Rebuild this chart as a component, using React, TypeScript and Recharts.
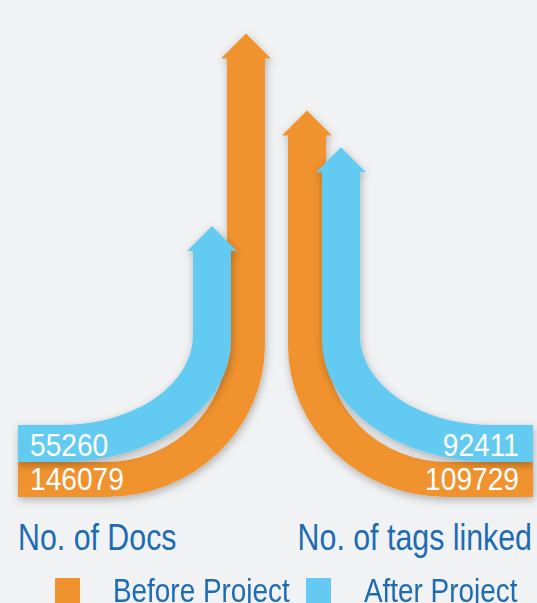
import { BarChart, Bar, XAxis, YAxis, Legend, LabelList } from 'recharts';

const categories = ['No. of Docs', 'No. of tags linked'];
const seriesNames = ['Before Project', 'After Project'];
const beforeProject = [146079, 109729];
const afterProject = [55260, 92411];

const data = categories.map((name, i) => ({
  name,
  before: beforeProject[i],
  after: afterProject[i],
}));

const ORANGE = '#f0922e';
const BLUE = '#64caf2';
const TEXT_BLUE = '#1d6cb3';
const BG = '#f1f2f4';
// no narrow font installed, so squeeze Liberation Sans horizontally
const FONT = "'Liberation Sans', Arial, sans-serif";
const NARROW = 0.82;

const STEP = 34; // barSize + barGap, used to swap the pair on the left side
const HEAD_OUT = 6;
const HEAD_H = 25;
const EDGE_L = 18;
const EDGE_R = 533;

// where each series bends into its horizontal band (left side, right side is mirrored)
const bend = {
  before: { slot: 0, hy1: 462, hy2: 497, rx: 121, cyI: 345, cyO: 345, labelY: 490 },
  after: { slot: 1, hy1: 425, hy2: 462, rx: 132, cyI: 335, cyO: 340, labelY: 456 },
};

function BentArrow(props: any) {
  const { x, y, width, index, fill, geo } = props;
  const left = index === 0;
  const s0 = left ? x + (1 - 2 * geo.slot) * STEP : x;
  const s1 = s0 + width;
  const mid = s0 + width / 2;
  const hb = y + HEAD_H;
  const ryI = geo.hy1 - geo.cyI;
  const ryO = geo.hy2 - geo.cyO;
  const rxO = geo.rx + width;
  let d;
  if (left) {
    const ax = s0 - geo.rx;
    d = [
      `M ${EDGE_L} ${geo.hy1}`,
      `L ${ax} ${geo.hy1}`,
      `A ${geo.rx} ${ryI} 0 0 0 ${s0} ${geo.cyI}`,
      `L ${s0} ${hb}`,
      `L ${s0 - HEAD_OUT} ${hb}`,
      `L ${mid} ${y}`,
      `L ${s1 + HEAD_OUT} ${hb}`,
      `L ${s1} ${hb}`,
      `L ${s1} ${geo.cyO}`,
      `A ${rxO} ${ryO} 0 0 1 ${ax} ${geo.hy2}`,
      `L ${EDGE_L} ${geo.hy2}`,
      'Z',
    ].join(' ');
  } else {
    const ax = s1 + geo.rx;
    d = [
      `M ${EDGE_R} ${geo.hy1}`,
      `L ${ax} ${geo.hy1}`,
      `A ${geo.rx} ${ryI} 0 0 1 ${s1} ${geo.cyI}`,
      `L ${s1} ${hb}`,
      `L ${s1 + HEAD_OUT} ${hb}`,
      `L ${mid} ${y}`,
      `L ${s0 - HEAD_OUT} ${hb}`,
      `L ${s0} ${hb}`,
      `L ${s0} ${geo.cyO}`,
      `A ${rxO} ${ryO} 0 0 0 ${ax} ${geo.hy2}`,
      `L ${EDGE_R} ${geo.hy2}`,
      'Z',
    ].join(' ');
  }
  return <path d={d} fill={fill} filter="url(#arrowShadow)" />;
}

function NarrowText({ x, y, anchor, size, color, squeeze = NARROW, children }: any) {
  return (
    <text
      transform={`translate(${x},${y}) scale(${squeeze},1)`}
      textAnchor={anchor}
      fill={color}
      fontSize={size}
      fontFamily={FONT}
    >
      {children}
    </text>
  );
}

const valueLabel = (geo: any) => (p: any) => {
  const left = p.index === 0;
  return (
    <NarrowText x={left ? 30 : 519} y={geo.labelY} anchor={left ? 'start' : 'end'} size={32} squeeze={0.88} color="#fff">
      {p.value}
    </NarrowText>
  );
};

function CategoryTick(props: any) {
  const { index, payload } = props;
  const left = index === 0;
  return (
    <NarrowText x={left ? 18 : 532} y={550} anchor={left ? 'start' : 'end'} size={37} color={TEXT_BLUE}>
      {payload.value}
    </NarrowText>
  );
}

const renderLegend = (props: any) => {
  const items = [...props.payload].sort(
    (a: any, b: any) => seriesNames.indexOf(a.value) - seriesNames.indexOf(b.value)
  );
  return (
    <div style={{ display: 'flex', paddingLeft: 55, fontFamily: FONT, fontSize: 34, lineHeight: '35px', color: TEXT_BLUE }}>
      {items.map((entry: any) => (
        <div key={entry.value} style={{ position: 'relative', flexShrink: 0, width: 251, height: 35 }}>
          <span
            style={{ position: 'absolute', left: 0, top: 5, width: 25, height: 25, background: entry.color }}
          />
          <span
            style={{
              position: 'absolute',
              left: 58,
              top: 0,
              whiteSpace: 'nowrap',
              transform: `scaleX(${NARROW})`,
              transformOrigin: 'left top',
            }}
          >
            {entry.value}
          </span>
        </div>
      ))}
    </div>
  );
};

export default function App() {
  return (
    <div style={{ position: 'absolute', left: 0, top: 0, width: 537, height: 603, background: BG, overflow: 'hidden' }}>
      <BarChart
        width={537}
        height={603}
        data={data}
        margin={{ top: 4, right: 166, bottom: 230, left: 181 }}
        barSize={38}
        barGap={-4}
      >
        <defs>
          <filter id="arrowShadow" x="-20%" y="-20%" width="140%" height="140%">
            <feDropShadow dx="1" dy="3" stdDeviation="4" floodColor="#000" floodOpacity="0.28" />
          </filter>
        </defs>
        <XAxis dataKey="name" axisLine={false} tickLine={false} tick={<CategoryTick />} height={30} interval={0} />
        <YAxis hide domain={[0, 160000]} />
        <Bar
          dataKey="before"
          name={seriesNames[0]}
          fill={ORANGE}
          isAnimationActive={false}
          shape={(p: any) => <BentArrow {...p} geo={bend.before} />}
        >
          <LabelList dataKey="before" content={valueLabel(bend.before)} />
        </Bar>
        <Bar
          dataKey="after"
          name={seriesNames[1]}
          fill={BLUE}
          isAnimationActive={false}
          shape={(p: any) => <BentArrow {...p} geo={bend.after} />}
        >
          <LabelList dataKey="after" content={valueLabel(bend.after)} />
        </Bar>
        <Legend
          layout="horizontal"
          verticalAlign="middle"
          align="center"
          wrapperStyle={{ left: 0, top: 573, width: 537 }}
          content={renderLegend}
        />
      </BarChart>
    </div>
  );
}
